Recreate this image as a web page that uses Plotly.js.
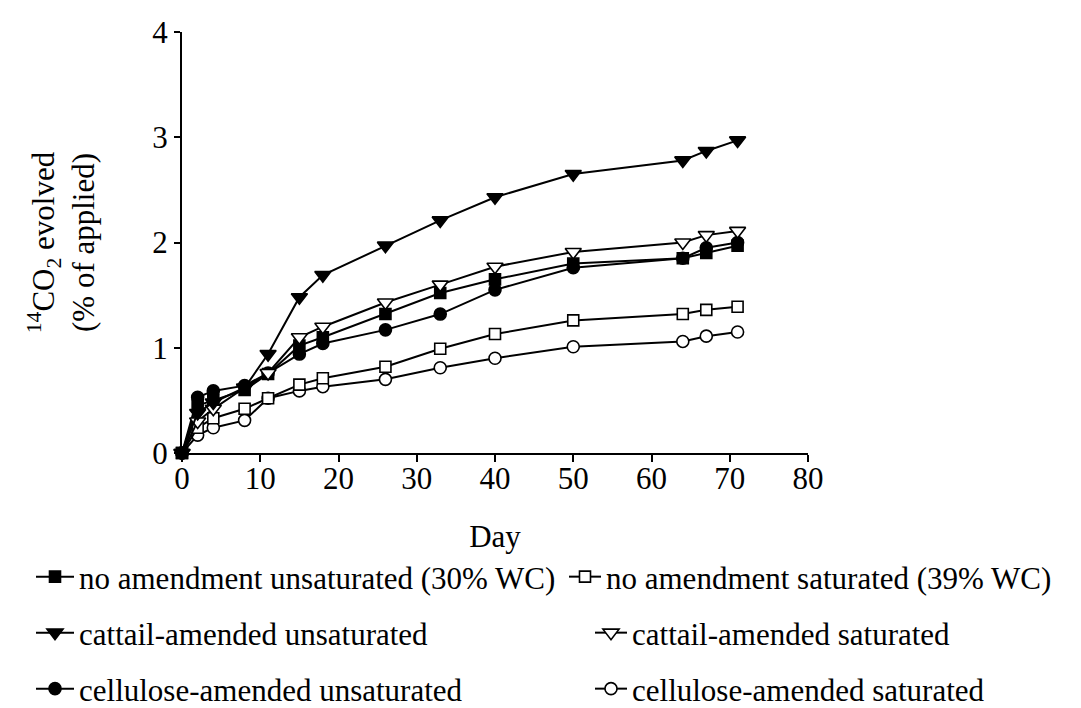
<!DOCTYPE html>
<html>
<head>
<meta charset="utf-8">
<script src="https://cdn.plot.ly/plotly-3.0.1.min.js"></script>
<style>html,body{margin:0;padding:0;background:#fff;}#chart{width:1081px;height:708px;}</style>
</head>
<body>
<div id="chart"></div>
<script>
const days = [0, 2, 4, 8, 11, 15, 18, 26, 33, 40, 50, 64, 67, 71];

const noAmendUnsat  = [0, 0.45, 0.50, 0.60, 0.75, 1.02, 1.10, 1.32, 1.52, 1.65, 1.80, 1.85, 1.90, 1.97];
const noAmendSat    = [0, 0.24, 0.33, 0.42, 0.52, 0.65, 0.71, 0.82, 0.99, 1.13, 1.26, 1.32, 1.36, 1.39];
const cattailUnsat  = [0, 0.38, 0.48, 0.62, 0.94, 1.48, 1.69, 1.97, 2.21, 2.43, 2.65, 2.78, 2.87, 2.97];
const cattailSat    = [0, 0.30, 0.42, 0.62, 0.76, 1.10, 1.20, 1.43, 1.60, 1.77, 1.91, 2.00, 2.07, 2.11];
const celluloseUnsat= [0, 0.53, 0.59, 0.64, 0.76, 0.94, 1.04, 1.17, 1.32, 1.55, 1.76, 1.85, 1.95, 2.00];
const celluloseSat  = [0, 0.17, 0.24, 0.31, 0.52, 0.59, 0.63, 0.70, 0.81, 0.90, 1.01, 1.06, 1.11, 1.15];

const seriesNames = [
  'no amendment unsaturated (30% WC)',
  'no amendment saturated (39% WC)',
  'cattail-amended unsaturated',
  'cattail-amended saturated',
  'cellulose-amended unsaturated',
  'cellulose-amended saturated'
];
const xTicks = [0, 10, 20, 30, 40, 50, 60, 70, 80];
const yTicks = [0, 1, 2, 3, 4];

const FONT = 'Liberation Serif';
const PL = 182, PR = 808, PT = 32, PB = 453, W = 1081, H = 708;

function tr(y, name, symbol, filled, size, legend) {
  return {
    x: days, y: y, name: name, type: 'scatter', mode: 'lines+markers',
    cliponaxis: false, legend: legend,
    line: {color: '#000', width: 2},
    marker: {symbol: symbol, size: size, color: filled ? '#000' : '#fff',
             line: {color: '#000', width: 1.6}}
  };
}

const data = [
  tr(celluloseSat,   seriesNames[5], 'circle', false, 12, 'legend6'),
  tr(noAmendSat,     seriesNames[1], 'square', false, 11, 'legend2'),
  tr(celluloseUnsat, seriesNames[4], 'circle', true, 12, 'legend5'),
  tr(noAmendUnsat,   seriesNames[0], 'square', true, 11, 'legend'),
  tr(cattailSat,     seriesNames[3], 'triangle-down', false, 14, 'legend4'),
  tr(cattailUnsat,   seriesNames[2], 'triangle-down', true, 14, 'legend3')
];

// legend boxes placed in paper coords (converted from pixel positions)
function leg(px, py, iw) {
  return {x: (px - PL) / (PR - PL), y: (PB - py) / (PB - PT), xref: 'paper', yref: 'paper',
          xanchor: 'left', yanchor: 'middle', orientation: 'v',
          font: {family: FONT, size: 31, color: '#000'}, bgcolor: 'rgba(0,0,0,0)',
          itemwidth: iw, borderwidth: 0};
}

const layout = {
  width: W, height: H,
  paper_bgcolor: '#fff', plot_bgcolor: '#fff',
  margin: {l: PL, r: W - PR, t: PT, b: H - PB, autoexpand: false},
  font: {family: FONT, color: '#000'},
  showlegend: true,
  xaxis: {
    range: [0, 80], tickvals: xTicks, ticktext: xTicks.map(String),
    showline: true, linecolor: '#000', linewidth: 2,
    ticks: 'outside', ticklen: 7, tickwidth: 2, tickcolor: '#000',
    showgrid: false, zeroline: false, ticklabelstandoff: -10,
    tickfont: {family: FONT, size: 31, color: '#000'},
    title: {text: 'Day', font: {family: FONT, size: 31, color: '#000'}, standoff: 30}
  },
  yaxis: {
    range: [0, 4], tickvals: yTicks, ticktext: yTicks.map(String),
    showline: true, linecolor: '#000', linewidth: 2,
    ticks: 'outside', ticklen: 6, tickwidth: 2, tickcolor: '#000',
    showgrid: false, zeroline: false,
    tickfont: {family: FONT, size: 31, color: '#000'},
    title: {text: '<sup>14</sup>CO<sub>2</sub> evolved<br>(% of applied)',
            font: {family: FONT, size: 31, color: '#000'}, standoff: 48}
  },
  legend:  leg(31, 577, 38),
  legend2: leg(564, 577, 32),
  legend3: leg(31, 633, 38),
  legend4: leg(590, 633, 32),
  legend5: leg(31, 689, 38),
  legend6: leg(590, 689, 32)
};

Plotly.newPlot('chart', data, layout, {displayModeBar: false, staticPlot: true});
</script>
</body>
</html>
